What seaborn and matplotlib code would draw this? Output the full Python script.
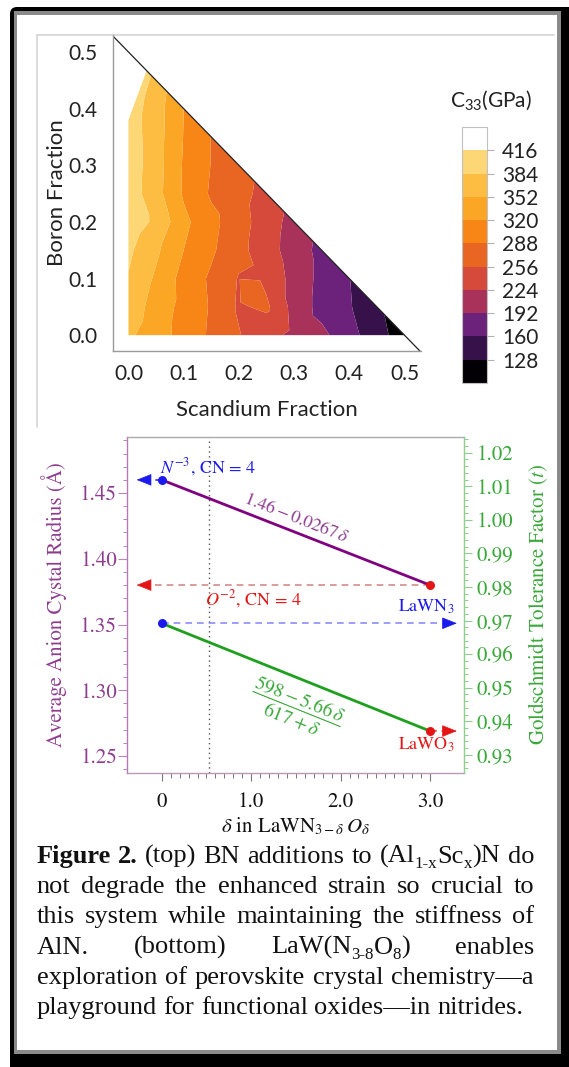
import re
import numpy as np
import matplotlib
matplotlib.use("Agg")
import matplotlib.pyplot as plt
import matplotlib.transforms as mtransforms
from matplotlib.patches import FancyBboxPatch, Rectangle
from matplotlib.lines import Line2D
from matplotlib.ticker import FixedLocator, MultipleLocator, FormatStrFormatter
import seaborn as sns

# ---------------- data: top panel (C33 map over composition) ----------------
scandium = [0.00, 0.05, 0.10, 0.15, 0.20, 0.25, 0.30, 0.35, 0.40, 0.45, 0.50,
            0.00, 0.05, 0.10, 0.15, 0.20, 0.25, 0.30, 0.35, 0.40, 0.45,
            0.00, 0.05, 0.10, 0.15, 0.20, 0.25, 0.30, 0.35, 0.40,
            0.00, 0.05, 0.10, 0.15, 0.20, 0.25, 0.30, 0.35,
            0.00, 0.05, 0.10, 0.15, 0.20, 0.25, 0.30,
            0.00, 0.05, 0.10, 0.15, 0.20, 0.25,
            0.00, 0.05, 0.10, 0.15, 0.20,
            0.00, 0.05, 0.10, 0.15,
            0.05, 0.10,
            0.05,
            0.00, 0.033, 0.215]
boron = [0.00, 0.00, 0.00, 0.00, 0.00, 0.00, 0.00, 0.00, 0.00, 0.00, 0.00,
         0.05, 0.05, 0.05, 0.05, 0.05, 0.05, 0.05, 0.05, 0.05, 0.05,
         0.10, 0.10, 0.10, 0.10, 0.10, 0.10, 0.10, 0.10, 0.10,
         0.15, 0.15, 0.15, 0.15, 0.15, 0.15, 0.15, 0.15,
         0.20, 0.20, 0.20, 0.20, 0.20, 0.20, 0.20,
         0.25, 0.25, 0.25, 0.25, 0.25, 0.25,
         0.30, 0.30, 0.30, 0.30, 0.30,
         0.35, 0.35, 0.35, 0.35,
         0.40, 0.40,
         0.45,
         0.38, 0.467, 0.09]
c33 = [358, 334, 309, 283, 258, 235, 216, 200, 172, 140, 112,
       371, 339, 310, 285, 252, 262, 213, 181, 163, 134,
       382, 347, 309, 283, 254, 248, 213, 183, 161,
       390, 358, 320, 293, 265, 239, 208, 183,
       402, 378, 328, 297, 269, 240, 212,
       402, 364, 316, 284, 266, 246,
       403, 366, 317, 287, 269,
       402, 366, 319, 287,
       366, 320,
       372,
       401, 394, 272]
c33_levels = [96, 128, 160, 192, 224, 256, 288, 320, 352, 384, 416, 448]
c33_ticks = [128, 160, 192, 224, 256, 288, 320, 352, 384, 416]
band_colors = ["#020004", "#37124a", "#6c227a", "#a8325a", "#d54a3a",
               "#e86622", "#f88616", "#fba624", "#fcbd42", "#fdd676", "#ffffff"]
frac_ticks = [0.0, 0.1, 0.2, 0.3, 0.4, 0.5]
frac_labels = ["0.0", "0.1", "0.2", "0.3", "0.4", "0.5"]

# ---------------- data: bottom panel ----------------
delta_ends = [0.0, 3.0]
radius_ends = [1.46, 1.38]          # 1.46 - 0.0267 delta
tolerance_ends = [0.9692, 0.9371]   # (598 - 5.66 delta)/(617 + delta)
delta_ticks = [0, 1, 2, 3]
delta_labels = ["0", "1.0", "2.0", "3.0"]
radius_ticks = [1.25, 1.30, 1.35, 1.40, 1.45]
tol_ticks = [0.93, 0.94, 0.95, 0.96, 0.97, 0.98, 0.99, 1.00, 1.01, 1.02]
delta_marker = 0.53

caption = [
    "**Figure** **2.** (top) BN additions to (Al_{1-x}Sc_{x})N do",
    "not degrade the enhanced strain so crucial to",
    "this system while maintaining the stiffness of",
    "AlN. (bottom) LaW(N_{3-8}O_{8}) enables",
    "exploration of perovskite crystal chemistry\u2014a",
    "playground for functional oxides\u2014in nitrides.",
]

# ---------------- style ----------------
sns.set_theme(style="white")
plt.rcParams["font.family"] = ["STIXGeneral", "DejaVu Sans"]
plt.rcParams["mathtext.fontset"] = "stix"
plt.rcParams["axes.unicode_minus"] = True

W, H, DPI = 569, 1067, 100
fig = plt.figure(figsize=(W / DPI, H / DPI), dpi=DPI, facecolor="white")
img = mtransforms.Affine2D().scale(1, -1).translate(0, H)   # image pixels -> display


def fx(px):
    return px / W


def fy(py):
    return 1 - py / H


# frame
fig.add_artist(FancyBboxPatch((10, 7), 580, 1090, boxstyle="round,pad=0,rounding_size=7",
                              fc="black", ec="none", transform=img, zorder=-10))
fig.add_artist(Rectangle((13.5, 10.5), 547, 1043, fc="#8a8a8a", ec="none", transform=img, zorder=-9))
fig.add_artist(Rectangle((17, 14.5), 540, 1035.5, fc="white", ec="none", transform=img, zorder=-8))
fig.add_artist(Line2D([37, 554], [34.5, 34.5], color="#d4d4d4", lw=1.2, transform=img, zorder=-7))
fig.add_artist(Line2D([37, 37], [34.5, 427], color="#d4d4d4", lw=1.2, transform=img, zorder=-7))

# ---------------- top panel ----------------
SANS = "Lato"
axc = fig.add_axes([fx(113), fy(351), 308 / W, 316 / H])
axc.set_facecolor("none")
cf = axc.tricontourf(scandium, boron, c33, levels=c33_levels, colors=band_colors, antialiased=True)
axc.axline((0.0, 0.5), (0.5, 0.0), color="#222222", lw=0.9)
axc.set_xlim(-0.028, 0.53)
axc.set_ylim(-0.028, 0.53)
for s in ["top", "right"]:
    axc.spines[s].set_visible(False)
for s in ["left", "bottom"]:
    axc.spines[s].set_color("#9a9a9a")
    axc.spines[s].set_linewidth(1.0)
axc.set_xticks(frac_ticks, labels=frac_labels, fontfamily=SANS, fontsize=15, color="#222")
axc.set_yticks(frac_ticks, labels=frac_labels, fontfamily=SANS, fontsize=15, color="#222")
axc.tick_params(axis="x", length=0, pad=9)
axc.tick_params(axis="y", length=0, pad=11)
axc.set_xlabel("Scandium Fraction", fontfamily=SANS, fontsize=16, color="#222")
axc.set_ylabel("Boron Fraction", fontfamily=SANS, fontsize=16, color="#222")
axc.xaxis.set_label_coords(0.5, -0.155)
axc.yaxis.set_label_coords(-0.15, 0.5)

cax = fig.add_axes([fx(462), fy(383), 25 / W, 256 / H])
cb = fig.colorbar(cf, cax=cax)
cb.set_ticks(c33_ticks)
cax.set_yticklabels([str(v) for v in c33_ticks], fontfamily=SANS, fontsize=15, color="#222")
cax.tick_params(length=5, width=0.8, color="#b0b0b0", pad=6)
cb.outline.set_edgecolor("#c0c0c0")
cb.outline.set_linewidth(0.8)
fig.text(fx(450), fy(100), r"$\mathregular{C_{33}}$(GPa)", fontfamily=SANS, fontsize=15,
         color="#222", ha="left", va="center")

# ---------------- bottom panel ----------------
PURPLE = "#800080"
PURPLE_T = "#8e3c8e"
GREEN = "#1ea01e"
GREEN_T = "#3aa83a"
BLUE = "#1a1aee"
RED = "#e51515"

ax = fig.add_axes([fx(127.3), fy(773), 336.7 / W, 336 / H])
ax2 = ax.twinx()
ax.set_xlim(-0.385, 3.38)
ax.set_ylim(1.2371, 1.4926)
ax2.set_ylim(0.9246, 1.0247)

ax.axvline(delta_marker, color="#555555", ls=(0, (1, 2.5)), lw=1.0, zorder=1)

sns.lineplot(x=delta_ends, y=radius_ends, ax=ax, color=PURPLE, lw=2.0, zorder=3)
sns.lineplot(x=delta_ends, y=tolerance_ends, ax=ax2, color=GREEN, lw=2.0, zorder=3)


def arrow(axis, y, x_from, x_tip, color, dash_color, alpha):
    d = np.sign(x_from - x_tip)
    axis.plot([x_from, x_tip + d * 0.12], [y, y], color=dash_color, alpha=alpha,
              lw=1.2, ls=(0, (4, 3)), zorder=2)
    axis.annotate("", xy=(x_tip, y), xytext=(x_tip + d * 0.14, y),
                  arrowprops=dict(arrowstyle="-|>,head_length=0.8,head_width=0.32",
                                  fc=color, ec=color, lw=0.5, shrinkA=0, shrinkB=0), zorder=4)


arrow(ax, radius_ends[0], delta_ends[0], -0.28, BLUE, BLUE, 0.9)
arrow(ax, radius_ends[1], delta_ends[1], -0.28, RED, "#c86464", 0.75)
arrow(ax2, tolerance_ends[0], delta_ends[0], 3.30, BLUE, "#6f6fff", 0.8)
arrow(ax2, tolerance_ends[1], delta_ends[1], 3.30, RED, RED, 0.9)

sns.scatterplot(x=[delta_ends[0]], y=[radius_ends[0]], ax=ax, color=BLUE, s=42, linewidth=0, zorder=5)
sns.scatterplot(x=[delta_ends[1]], y=[radius_ends[1]], ax=ax, color=RED, s=42, linewidth=0, zorder=5)
sns.scatterplot(x=[delta_ends[0]], y=[tolerance_ends[0]], ax=ax2, color=BLUE, s=42, linewidth=0, zorder=5)
sns.scatterplot(x=[delta_ends[1]], y=[tolerance_ends[1]], ax=ax2, color=RED, s=42, linewidth=0, zorder=5)

# ticks and spines
ax.set_xticks(delta_ticks, labels=delta_labels)
ax.xaxis.set_minor_locator(FixedLocator(np.round(np.arange(0, 3.001, 0.1), 2)))
ax.set_yticks(radius_ticks)
ax.yaxis.set_major_formatter(FormatStrFormatter("%.2f"))
ax.yaxis.set_minor_locator(MultipleLocator(0.01))
ax2.set_yticks(tol_ticks)
ax2.yaxis.set_major_formatter(FormatStrFormatter("%.2f"))
ax2.yaxis.set_minor_locator(MultipleLocator(0.002))

ax.tick_params(axis="x", which="major", direction="out", length=5.5, width=0.8, color="#777777",
               labelsize=15, labelcolor="#111111", pad=8, bottom=True)
ax.tick_params(axis="x", which="minor", direction="out", length=3.5, width=0.7, color="#777777", bottom=True)
ax.tick_params(axis="y", which="major", direction="out", length=6.5, width=0.8, color="#b888b8",
               labelsize=15, labelcolor=PURPLE_T, pad=1, left=True)
ax.tick_params(axis="y", which="minor", direction="out", length=3.0, width=0.7, color="#b888b8", left=True)
ax2.tick_params(axis="y", which="major", direction="out", length=6.0, width=0.8, color="#90cc90",
                labelsize=15, labelcolor=GREEN_T, pad=3, right=True)
ax2.tick_params(axis="y", which="minor", direction="out", length=3.0, width=0.7, color="#90cc90", right=True)

ax.spines["right"].set_visible(False)
ax.spines["left"].set_color("#b47ab4")
ax.spines["bottom"].set_color("#b89ab8")
ax.spines["top"].set_color("#aaaaaa")
for s in ["left", "bottom", "top"]:
    ax2.spines[s].set_visible(False)
ax2.spines["right"].set_color("#8fcf8f")
for a in (ax, ax2):
    for s in a.spines.values():
        s.set_linewidth(1.0)
ax.grid(False)
ax2.grid(False)

ax.set_xlabel(r"$\delta$ in LaWN$_{3-\delta}\,O_{\delta}$", fontsize=15, color="#111111")
ax.xaxis.set_label_coords(0.5, -0.128)
ax.set_ylabel("Average Anion Cystal Radius (\u00c5)", fontsize=15, color=PURPLE_T)
ax.yaxis.set_label_coords(-0.179, 0.5)
ax2.set_ylabel(r"Goldschmidt Tolerance Factor ($t$)", fontsize=15, color=GREEN_T)
ax2.yaxis.set_label_coords(1.186, 0.5)

# annotations
def line_angle(axis, xs, ys):
    p0 = axis.transData.transform((xs[0], ys[0]))
    p1 = axis.transData.transform((xs[1], ys[1]))
    return np.degrees(np.arctan2(p1[1] - p0[1], p1[0] - p0[0]))


ang_r = line_angle(ax, delta_ends, radius_ends)
ang_t = line_angle(ax2, delta_ends, tolerance_ends)

ax.text(-0.02, 1.4652, r"$N^{-3}$, CN = 4", color=BLUE, fontsize=13, ha="left", va="baseline")
ax.text(0.484, 1.3645, r"$O^{-2}$, CN = 4", color=RED, fontsize=13, ha="left", va="baseline")
ax2.text(3.28, 0.9726, r"LaWN$_3$", color=BLUE, fontsize=13, ha="right", va="baseline")
ax2.text(3.28, 0.9315, r"LaWO$_3$", color=RED, fontsize=13, ha="right", va="baseline")
ax.text(1.50, 1.4308, r"$1.46 - 0.0267\,\delta$", color=PURPLE_T, fontsize=13,
        rotation=ang_r, rotation_mode="anchor", ha="center", va="center")
ax2.text(1.50, 0.9440, r"$\dfrac{598 - 5.66\,\delta}{617 + \delta}$", color=GREEN_T, fontsize=14,
         rotation=ang_t, rotation_mode="anchor", ha="center", va="center")

# ---------------- caption (justified) ----------------
CAP = "Liberation Serif"
renderer = fig.canvas.get_renderer()


def parse(word):
    segs = []
    for m in re.finditer(r"\*\*(.+?)\*\*|_\{(.+?)\}|([^*_]+)", word):
        if m.group(1):
            segs.append((m.group(1), "b"))
        elif m.group(2):
            segs.append((m.group(2), "s"))
        else:
            segs.append((m.group(3), "n"))
    return segs


def mk(s, kind, fs):
    return fig.text(0, 0, s, fontsize=fs * (0.64 if kind == "s" else 1.0),
                    fontweight="bold" if kind == "b" else "normal",
                    family=CAP, color="#111111", ha="left", va="baseline")


def width(t):
    return t.get_window_extent(renderer).width


tmp = mk(caption[-1], "n", 16)
w16 = width(tmp)
tmp.remove()
fs = 16 * (522.5 - 36.5) / w16
t1, t2 = mk("a a", "n", fs), mk("aa", "n", fs)
space = width(t1) - width(t2)
t1.remove(); t2.remove()

L, R = 36.5, 534.0
fs_px = fs * DPI / 72
for i, line in enumerate(caption):
    base = 863 + 30.2 * i
    words = []
    for w in line.split(" "):
        segs = [(mk(s, k, fs), k) for s, k in parse(w)]
        words.append((segs, sum(width(t) for t, _ in segs)))
    total = sum(wd for _, wd in words)
    gap = space if i == len(caption) - 1 else (R - L - total) / (len(words) - 1)
    x = L
    for segs, wd in words:
        for t, k in segs:
            dy = 0.2 * fs_px if k == "s" else 0.0
            t.set_position((fx(x), fy(base + dy)))
            x += width(t)
        x += gap

fig.savefig("out.png", dpi=DPI, facecolor="white")
